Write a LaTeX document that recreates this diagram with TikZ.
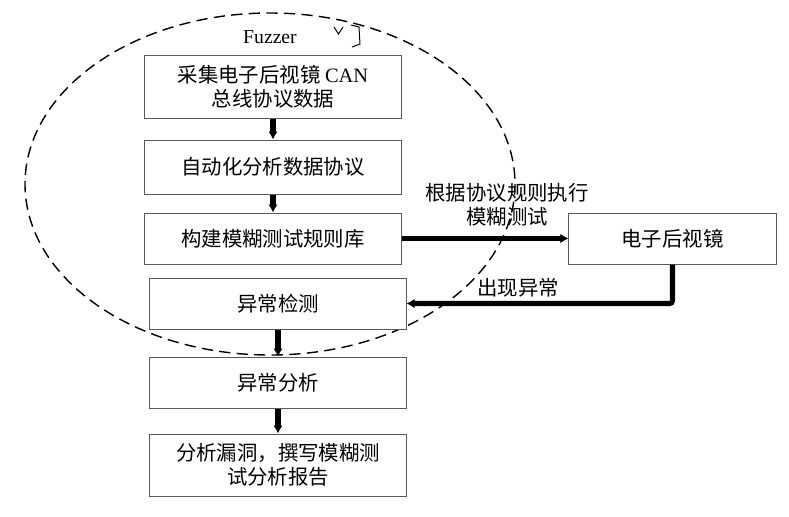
\documentclass[tikz,border=0pt]{standalone}
\usepackage{fontspec}
\setmainfont{Liberation Serif}
\newfontfamily\cjk{Noto Sans CJK SC}
\usetikzlibrary{arrows.meta}
\tikzset{
      stepbox/.style={draw=black!65, line width=0.7pt, fill=white, align=center,
                  minimum width=6.4cm, inner sep=0pt,
                  font=\cjk\fontsize{14.5}{17}\selectfont},
      flow/.style={line width=3.6pt, -{Latex[length=2mm,width=2.4mm]}},
      flowlabel/.style={align=center, font=\cjk\fontsize{14.5}{17}\selectfont}
}

\begin{document}
\begin{tikzpicture}[x=0.025cm, y=-0.025cm]
                  \useasboundingbox (0, 0) rectangle (789, 516);
                  % the fuzzer region
                  \draw [line width=1pt, dash pattern=on 8pt off 4.5pt] (270, 184) ellipse (245 and 171);
                  \node (fuzzer) at (270, 37) {\fontsize{14}{16}\selectfont Fuzzer};
                  \draw [line width=0.7pt] (334, 27) -- (338.5, 34) -- (343, 27);
                  \draw [line width=0.7pt] (351, 25) -- (359, 27) -- (360, 44) -- (352, 47);
                  % steps
                  \node (collect) at (273, 86.5) [stepbox, minimum height=1.575cm] {采集电子后视镜 {\rmfamily CAN}\\总线协议数据};
                  \node (analyse) at (273, 167) [stepbox, minimum height=1.35cm] {自动化分析数据协议};
                  \node (rules) at (273, 238.5) [stepbox, minimum height=1.275cm] {构建模糊测试规则库};
                  \node (detect) at (278, 303.5) [stepbox, minimum height=1.275cm] {异常检测};
                  \node (anomaly) at (278, 382.5) [stepbox, minimum height=1.275cm] {异常分析};
                  \node (report) at (278, 465) [stepbox, minimum height=1.55cm] {分析漏洞，撰写模糊测\\试分析报告};
                  \node (mirror) at (672.5, 238.5) [stepbox, minimum width=5.175cm, minimum height=1.275cm] {电子后视镜};
                  % connectors
                  \draw [flow] (collect) -- (analyse);
                  \draw [flow] (analyse) -- (rules);
                  \draw [flow] (rules) -- (mirror);
                  \draw [flow, rounded corners=2pt] (mirror.south) |- (detect.east);
                  \draw [flow] (detect) -- (anomaly);
                  \draw [flow] (anomaly) -- (report);
                  \node (fuzzlabel) at (507, 205) [flowlabel] {根据协议规则执行\\模糊测试};
                  \node (faultlabel) at (518, 288) [flowlabel] {出现异常};
            \end{tikzpicture}
\end{document}
